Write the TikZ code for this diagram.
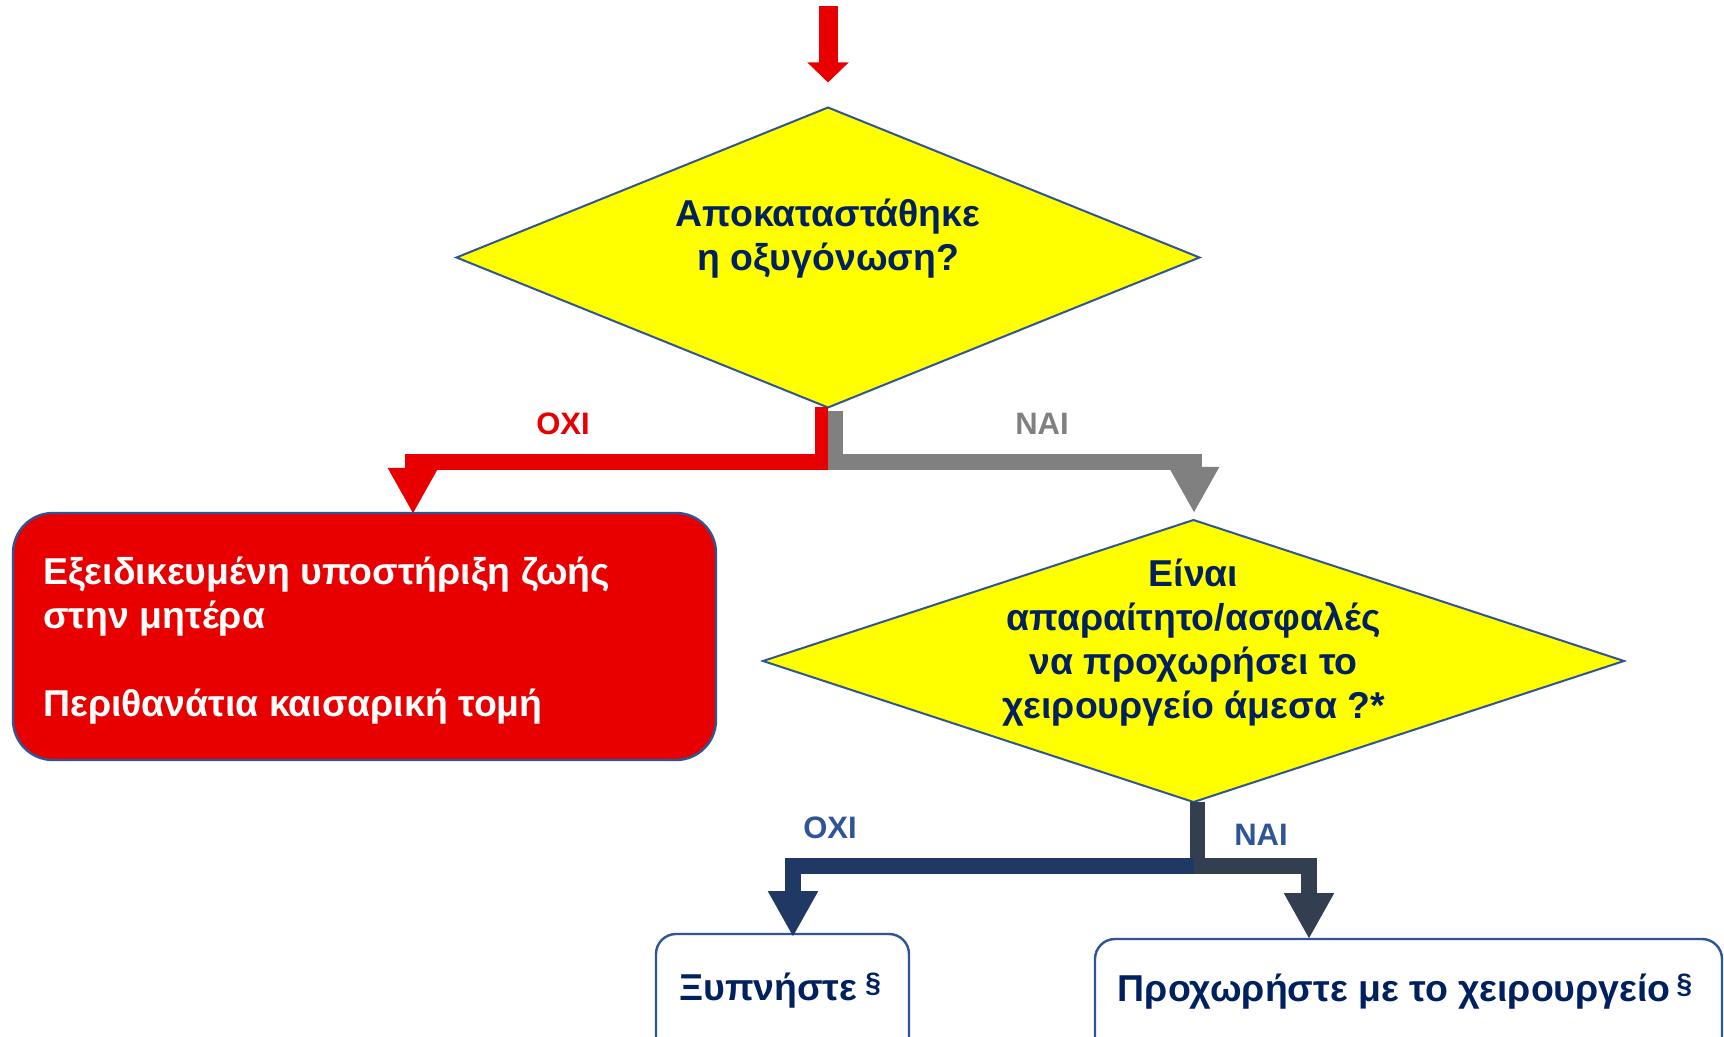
\documentclass[tikz,border=0pt]{standalone}
\usepackage{fontspec}
\setmainfont{Liberation Sans}
\usetikzlibrary{shapes.geometric,arrows.meta,calc}
\definecolor{cred}{RGB}{232,0,0}
\definecolor{cgray}{RGB}{128,128,128}
\definecolor{cnavy}{RGB}{31,56,100}
\definecolor{cslate}{RGB}{51,63,80}
\definecolor{ctext}{RGB}{0,32,96}
\definecolor{cedge}{RGB}{47,85,151}
\definecolor{cyel}{RGB}{255,255,0}
\begin{document}
\begin{tikzpicture}[x=0.5pt,y=-0.5pt,
  decision/.style={diamond, draw=cedge, line width=1pt, fill=cyel, inner sep=0pt, outer sep=0pt},
  roundbox/.style={rectangle, rounded corners=10pt, draw=cedge, line width=1.2pt, inner sep=0pt, outer sep=0pt},
  maintext/.style={font=\fontsize{18.7}{22}\selectfont\bfseries, text=ctext, inner sep=0pt},
  lbl/.style={font=\fontsize{15.5}{18}\selectfont\bfseries, inner sep=0pt, anchor=base},
  elbow/.style={line width=8pt, line join=miter, -{Triangle[width=23.5pt,length=23pt]}},
]
\clip (0,0) rectangle (1724,1037);
\fill[white] (0,0) rectangle (1724,1037);

% nodes
\coordinate (start) at (828,6);
\node[decision, minimum width=371.5pt, minimum height=150pt] (D1) at (828,257.5) {};
\node[maintext, align=center] (t1) at (828,239) {Αποκαταστάθηκε\\η οξυγόνωση?};

\node[roundbox, fill=cred, rounded corners=20pt, minimum width=351.5pt, minimum height=123.5pt] (redbox) at (364.5,636.5) {};
\node[maintext, text=white, align=left, anchor=west] (rt) at (43,640.5) {Εξειδικευμένη υποστήριξη ζωής\\στην μητέρα\\[22pt]Περιθανάτια καισαρική τομή};

\node[decision, minimum width=430.5pt, minimum height=141pt] (D2) at (1193.5,661) {};
\node[maintext, align=center] (t2) at (1193.5,642.5) {Είναι\\απαραίτητο/ασφαλές\\να προχωρήσει το\\χειρουργείο άμεσα ?*};

\node[roundbox, fill=white, minimum width=126.5pt, minimum height=73pt] (box1) at (782.5,1007) {};
\node[roundbox, fill=white, minimum width=313.5pt, minimum height=73pt] (box2) at (1408.5,1012) {};
\node[maintext, anchor=base] (bt1) at (780,1000) {Ξυπνήστε\hspace{4pt}\raisebox{4pt}{\fontsize{14}{14}\selectfont §}};
\node[maintext, anchor=base] (bt2) at (1405,1001) {Προχωρήστε με το χειρουργείο\hspace{3pt}\raisebox{4pt}{\fontsize{14}{14}\selectfont §}};

% labels
\node[lbl, text=cred] (l1) at (563,435) {ΟΧΙ};
\node[lbl, text=cgray] (l2) at (1042,435) {ΝΑΙ};
\node[lbl, text=cedge] (l3) at (830,838) {ΟΧΙ};
\node[lbl, text=cedge] (l4) at (1261,845) {ΝΑΙ};

% connectors
\draw[cred, line width=9.5pt, -{Triangle[width=20pt,length=10pt]}, shorten >=12.5pt] (start) -- (D1.north);

\draw[cred, line width=6.5pt] ($(D1.south)+(-6.5,0)$) -- ++(0,63);
\draw[cgray, line width=7.5pt] ($(D1.south)+(7.5,4)$) -- ++(0,59);
\draw[elbow, cgray] ($(D1.south)+(0,55)$) -| ($(D2.north)+(0.5,-7)$);
\draw[elbow, cred] ($(D1.south)+(0,55)$) -| ($(redbox.north west)+(400,1)$);

\draw[cslate, line width=7.5pt] ($(D2.south)+(4,0)$) -- ++(0,72);
\draw[elbow, cslate] ($(D2.south)+(0,64)$) -| ($(box2.north west)+(214,0)$);
\draw[elbow, cnavy] ($(D2.south)+(0,64)$) -| ($(box1.north west)+(137,3)$);
\end{tikzpicture}
\end{document}
